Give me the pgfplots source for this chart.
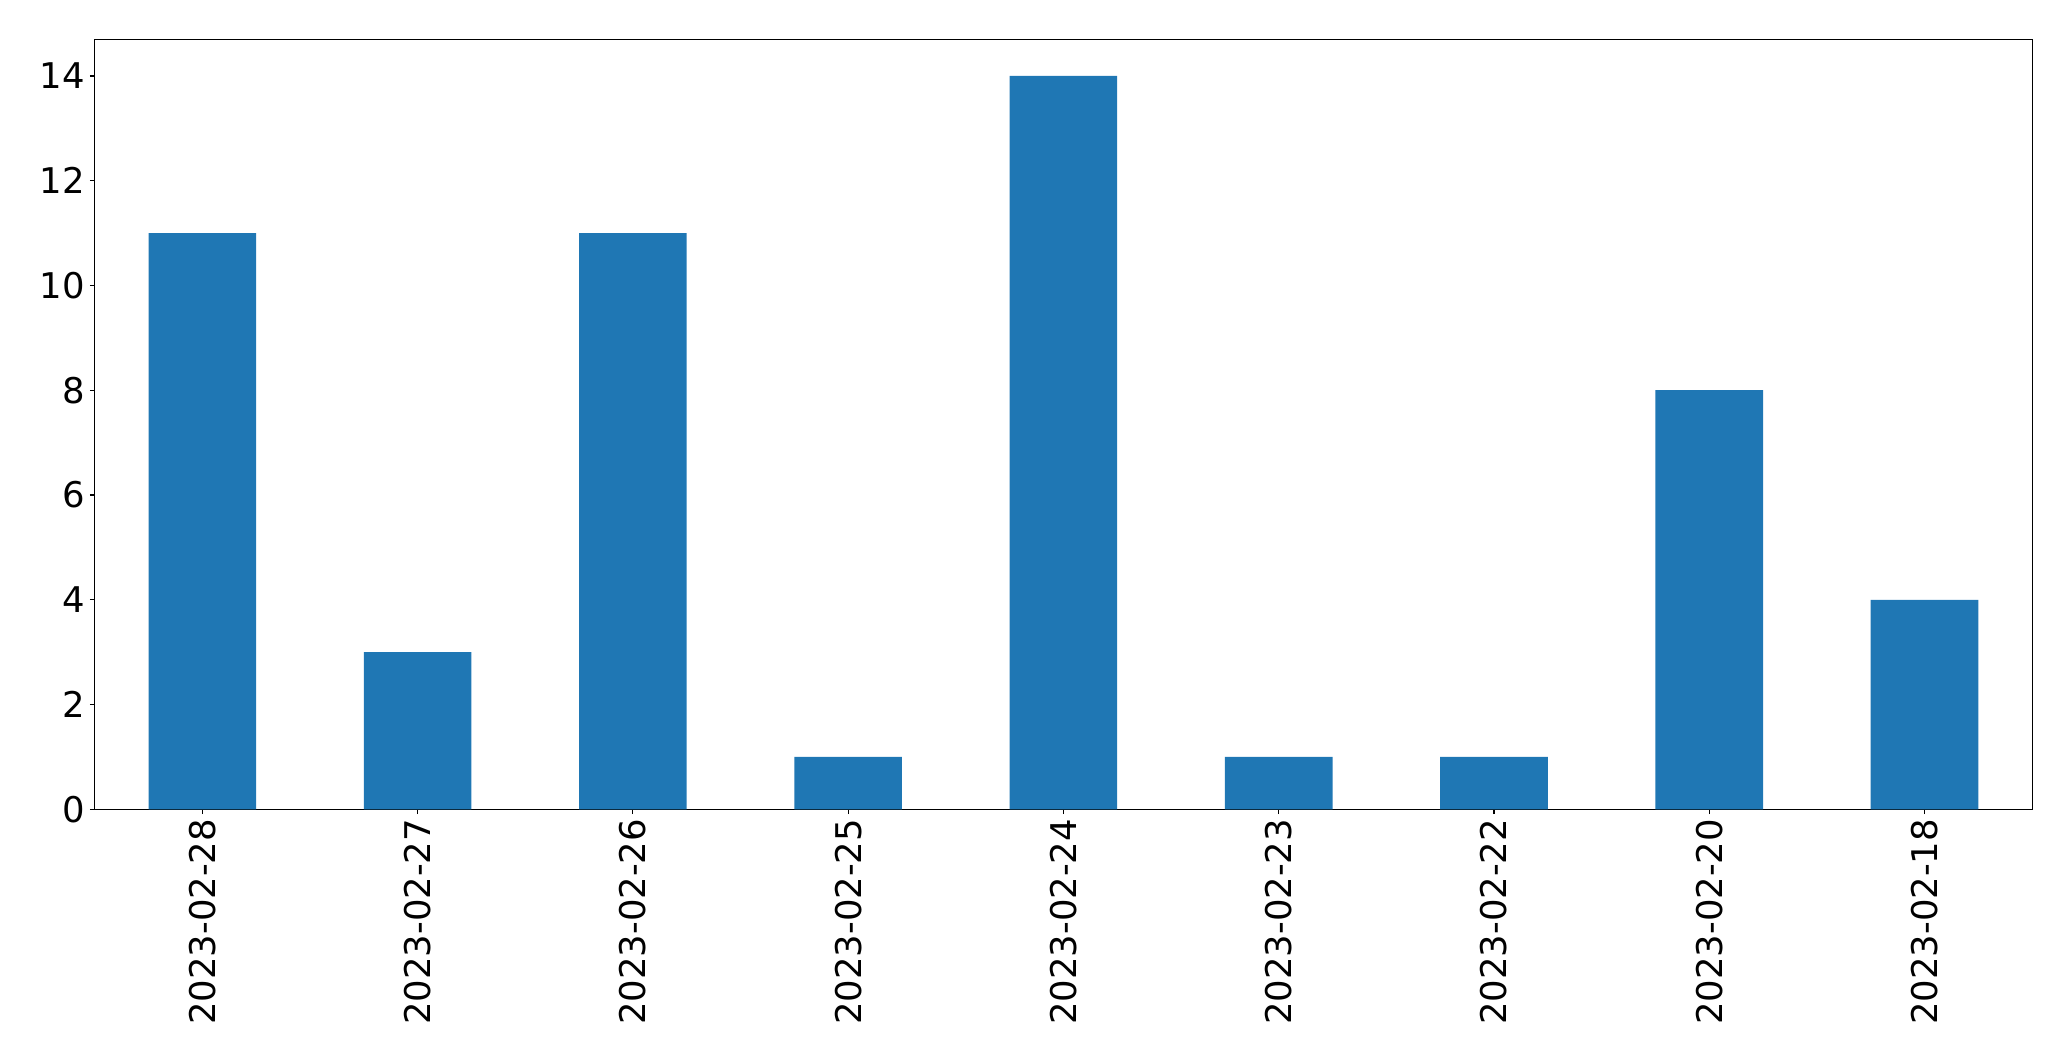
\documentclass[border=0pt]{standalone}
\usepackage{fontspec}
\setmainfont{DejaVu Sans}
\usepackage{pgfplots}
\pgfplotsset{compat=1.18}
\definecolor{mplblue}{HTML}{1F77B4}
\begin{document}
\fontsize{25.5}{29}\selectfont
\begin{tikzpicture}
\begin{axis}[
  at={(0,0)}, anchor=south west,
  scale only axis,
  width=1395.1pt, height=554.4pt,
  xmin=-0.5, xmax=8.5,
  ymin=0, ymax=14.7,
  xtick={0,1,2,3,4,5,6,7,8},
  xticklabels={2023-02-28,2023-02-27,2023-02-26,2023-02-25,2023-02-24,2023-02-23,2023-02-22,2023-02-20,2023-02-18},
  ytick={0,2,4,6,8,10,12,14},
  x tick label style={rotate=90, anchor=east, font=\fontsize{25.5}{29}\selectfont},
  y tick label style={font=\fontsize{25.5}{29}\selectfont},
  /pgf/number format/assume math mode=true,
  tick align=outside,
  major tick length=3.5pt,
  tick style={black, line width=0.8pt},
  axis line style={line width=0.8pt},
  xtick pos=bottom, ytick pos=left,
  xticklabel style={inner sep=0pt, outer sep=3.5pt},
  yticklabel style={inner sep=0pt, outer sep=3.5pt},
  ybar, bar width=0.5,
]
\addplot[fill=mplblue, draw=none] coordinates {(0,11) (1,3) (2,11) (3,1) (4,14) (5,1) (6,1) (7,8) (8,4)};
\end{axis}
\path (-68.2pt,-181.2pt) rectangle (1423.0pt,582.7pt);
\end{tikzpicture}
\end{document}
